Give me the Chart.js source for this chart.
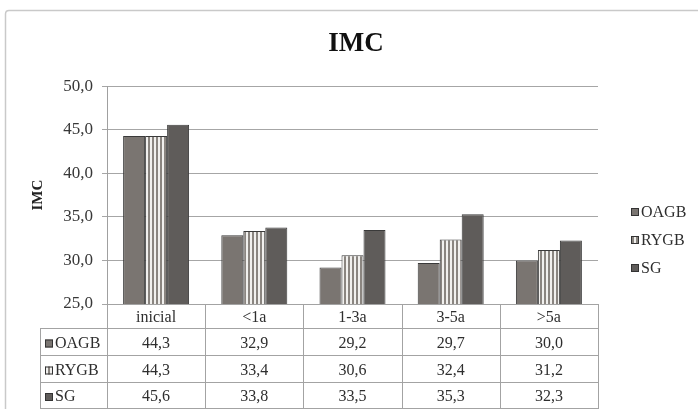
<!DOCTYPE html>
<html><head><meta charset="utf-8">
<script src="https://cdn.jsdelivr.net/npm/chart.js@4.4.1/dist/chart.umd.min.js"></script>
<style>html,body{margin:0;padding:0;background:#fff}#wrap{width:698px;height:409px;position:relative}</style>
</head><body><div id="wrap"><canvas id="c" width="698" height="409"></canvas></div>
<script>
const categories = ['inicial', '<1a', '1-3a', '3-5a', '>5a'];
const seriesNames = ['OAGB', 'RYGB', 'SG'];
const oagbValues = [44.3, 32.9, 29.2, 29.7, 30.0];
const rygbValues = [44.3, 33.4, 30.6, 32.4, 31.2];
const sgValues = [45.6, 33.8, 33.5, 35.3, 32.3];
const yMin = 25, yMax = 50, yStep = 5;
const chartTitle = 'IMC';
const yTitle = 'IMC';

const fmt = v => Number(v).toFixed(1).replace('.', ',');
const SERIF = '"Liberation Serif", "DejaVu Serif", serif';

function stripePattern() {
  const c = document.createElement('canvas');
  c.width = 4; c.height = 8;
  const g = c.getContext('2d');
  g.fillStyle = '#f1f0ee'; g.fillRect(0, 0, 4, 8);
  g.fillStyle = '#8a8580'; g.fillRect(0, 0, 2, 8);
  return g.createPattern(c, 'repeat');
}
const stripe = stripePattern();
const fills = ['#7a7571', stripe, '#5f5c5a'];

const tablePlugin = {
  id: 'tablePlugin',
  beforeDraw(chart) {
    const ctx = chart.ctx;
    ctx.save();
    ctx.fillStyle = '#fff';
    ctx.fillRect(0, 0, chart.width, chart.height);
    ctx.strokeStyle = '#c9c9c9';
    ctx.lineWidth = 1.5;
    ctx.beginPath();
    ctx.moveTo(5.5, 420); ctx.lineTo(5.5, 14); ctx.quadraticCurveTo(5.5, 10.5, 9, 10.5); ctx.lineTo(720, 10.5);
    ctx.stroke();
    ctx.restore();
  },
  afterDraw(chart) {
    const ctx = chart.ctx;
    const ca = chart.chartArea;
    const xs = chart.scales.x;
    const n = categories.length;
    const colW = (ca.right - ca.left) / n;
    const top = ca.bottom;
    const rowLines = [top, top + 25, top + 52, top + 79, top + 105];
    const leftX = 40;
    ctx.save();
    ctx.strokeStyle = '#a3a3a3';
    ctx.lineWidth = 1;
    ctx.beginPath();
    ctx.moveTo(ca.left, Math.round(rowLines[0]) + 0.5); ctx.lineTo(ca.right, Math.round(rowLines[0]) + 0.5);
    for (let i = 1; i < rowLines.length; i++) {
      const y = Math.round(rowLines[i]) - 0.5;
      ctx.moveTo(leftX, y); ctx.lineTo(ca.right, y);
    }
    ctx.moveTo(leftX + 0.5, rowLines[1]); ctx.lineTo(leftX + 0.5, rowLines[4]);
    for (let i = 0; i <= n; i++) {
      const x = Math.round(ca.left + i * colW) + 0.5;
      ctx.moveTo(x, rowLines[0]); ctx.lineTo(x, rowLines[4]);
    }
    ctx.stroke();

    ctx.fillStyle = '#2e2e2e';
    ctx.font = '16px ' + SERIF;
    ctx.textAlign = 'center';
    ctx.textBaseline = 'middle';
    categories.forEach((c, i) => {
      const cx = xs.getPixelForValue(i);
      ctx.fillText(c, cx, (rowLines[0] + rowLines[1]) / 2 + 1);
    });
    chart.data.datasets.forEach((ds, r) => {
      const cy = (rowLines[r + 1] + rowLines[r + 2]) / 2 + 1;
      ds.data.forEach((v, i) => {
        ctx.textAlign = 'center';
        ctx.fillText(fmt(v), xs.getPixelForValue(i), cy);
      });
      drawIcon(ctx, 45, cy - 4, r);
      ctx.textAlign = 'left';
      ctx.fillStyle = '#2e2e2e';
      ctx.fillText(ds.label, 55, cy);
    });

    const legY = [212, 240, 268];
    chart.data.datasets.forEach((ds, r) => {
      drawIcon(ctx, 631, legY[r] - 4, r);
      ctx.fillStyle = '#2e2e2e';
      ctx.textAlign = 'left';
      ctx.fillText(ds.label, 641, legY[r] + 1);
    });
    ctx.restore();
  }
};

function drawIcon(ctx, x, y, r) {
  ctx.save();
  ctx.fillStyle = fills[r];
  ctx.fillRect(x, y, 8, 8);
  ctx.strokeStyle = '#333';
  ctx.lineWidth = 1;
  ctx.strokeRect(x + 0.5, y + 0.5, 7, 7);
  ctx.restore();
}

const datasets = [oagbValues, rygbValues, sgValues].map((vals, i) => ({
  label: seriesNames[i],
  data: vals,
  backgroundColor: fills[i],
  borderColor: '#3a3a3a',
  borderWidth: 1,
  categoryPercentage: 0.672,
  barPercentage: 1.0,
  yAxisID: 'y'
}));

new Chart(document.getElementById('c'), {
  type: 'bar',
  data: { labels: categories, datasets },
  plugins: [tablePlugin],
  options: {
    responsive: false,
    animation: false,
    layout: { padding: { left: 14, right: 0, top: 0, bottom: 105 } },
    plugins: {
      legend: { display: false },
      tooltip: { enabled: false },
      title: {
        display: true, text: chartTitle, color: '#111',
        font: { family: SERIF, size: 27, weight: 'bold' },
        padding: { top: 28, bottom: 26 }
      }
    },
    scales: {
      x: { display: false },
      y: {
        position: 'left',
        min: yMin, max: yMax,
        afterFit(scale) { scale.width = 93; },
        ticks: {
          stepSize: yStep, color: '#383838', padding: 9,
          font: { family: SERIF, size: 17 },
          callback: v => fmt(v)
        },
        grid: { color: '#a6a6a6', tickLength: 5, drawTicks: true },
        border: { display: true, color: '#a0a0a0' },
        title: {
          display: true, text: yTitle, color: '#222',
          font: { family: SERIF, size: 15, weight: 'bold' },
          padding: { top: 15, bottom: 0 }
        }
      },
      yR: {
        position: 'right',
        display: true,
        min: yMin, max: yMax,
        afterFit(scale) { scale.width = 100; },
        ticks: { display: false },
        grid: { display: false, drawTicks: false },
        border: { display: false }
      }
    }
  }
});
</script></body></html>
